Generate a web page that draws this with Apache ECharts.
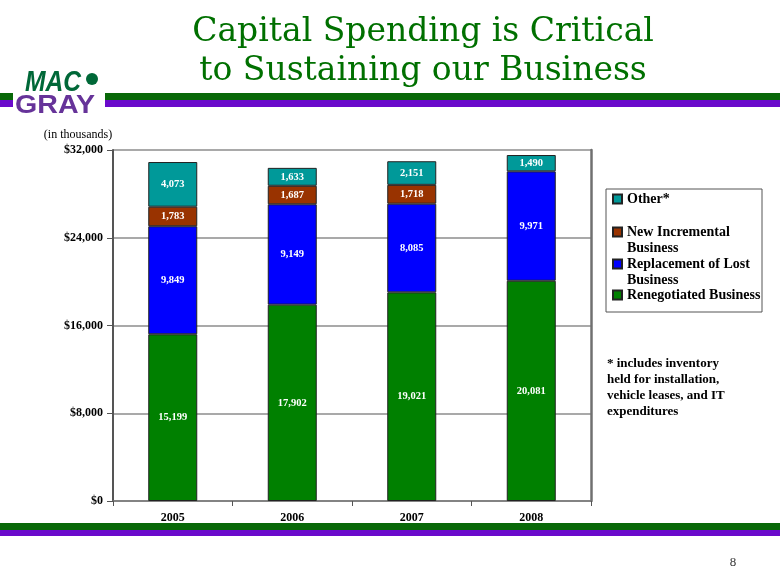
<!DOCTYPE html>
<html><head><meta charset="utf-8">
<script src="https://cdn.jsdelivr.net/npm/echarts/dist/echarts.min.js"></script>
<style>html,body{margin:0;padding:0;background:#fff}#c{width:780px;height:585px}</style>
</head><body><div id="c"></div>
<script>
const categories = ['2005', '2006', '2007', '2008'];
const renegotiated = [15199, 17902, 19021, 20081];
const replacement = [9849, 9149, 8085, 9971];
const newIncremental = [1783, 1687, 1718, null];
const other = [4073, 1633, 2151, 1490];
const seriesNames = ['Renegotiated Business', 'Replacement of Lost Business', 'New Incremental Business', 'Other*'];
const legendLabels = {
  'Other*': 'Other*',
  'New Incremental Business': ' \nNew Incremental\nBusiness',
  'Replacement of Lost Business': ' \nReplacement of Lost\nBusiness',
  'Renegotiated Business': 'Renegotiated Business'
};
const yMin = 0, yMax = 32000, yStep = 8000;

const SERIF = 'Liberation Serif, Times New Roman, serif';
const colors = ['#008000', '#0000ff', '#993300', '#009999'];
const dataSets = [renegotiated, replacement, newIncremental, other];

function fmt(p) { return p.value == null ? '' : Number(p.value).toLocaleString('en-US'); }

const series = seriesNames.map((n, i) => ({
  name: n, type: 'bar', stack: 'total', barWidth: 49,
  data: dataSets[i],
  itemStyle: { color: colors[i], borderColor: '#222', borderWidth: 1 },
  label: { show: true, position: 'inside', color: '#fff', fontFamily: SERIF, fontWeight: 'bold', fontSize: 10.5, formatter: fmt },
  emphasis: { disabled: true }
}));

const legendCommon = {
  orient: 'vertical', left: 612, padding: 0, itemWidth: 9, itemHeight: 9, itemGap: 0,
  icon: 'rect', selectedMode: false,
  formatter: n => legendLabels[n],
  textStyle: { fontFamily: SERIF, fontWeight: 'bold', fontSize: 14, color: '#000', lineHeight: 16 }
};

const chart = echarts.init(document.getElementById('c'), null, { renderer: 'canvas' });
chart.setOption({
  animation: false,
  backgroundColor: '#fff',
  grid: { left: 113, right: 189, top: 150, bottom: 84, containLabel: false, outerBoundsMode: 'none' },
  xAxis: {
    type: 'category', data: categories,
    axisLine: { lineStyle: { color: '#777', width: 1.5 } },
    axisTick: { show: true, length: 5, lineStyle: { color: '#555' } },
    axisLabel: { fontFamily: SERIF, fontWeight: 'bold', fontSize: 12, color: '#000', margin: 11 }
  },
  yAxis: [{
    type: 'value', min: yMin, max: yMax, interval: yStep,
    axisLine: { show: true, lineStyle: { color: '#555', width: 2 } },
    axisTick: { show: true, length: 6, lineStyle: { color: '#555' } },
    splitLine: { show: true, lineStyle: { color: '#8c8c8c', width: 1.5 } },
    axisLabel: { fontFamily: SERIF, fontWeight: 'bold', fontSize: 12, color: '#000', margin: 10,
      formatter: v => '$' + v.toLocaleString('en-US') }
  }, {
    type: 'value', min: yMin, max: yMax, interval: yStep, position: 'right',
    axisLine: { show: true, lineStyle: { color: '#707070', width: 2.5 } },
    axisTick: { show: false }, axisLabel: { show: false }, splitLine: { show: false }
  }],
  legend: [
    Object.assign({}, legendCommon, { data: ['Other*'], top: 191 }),
    Object.assign({}, legendCommon, { data: ['New Incremental Business'], top: 208 }),
    Object.assign({}, legendCommon, { data: ['Replacement of Lost Business'], top: 240 }),
    Object.assign({}, legendCommon, { data: ['Renegotiated Business'], top: 287 })
  ],
  series: series,
  graphic: [
    { type: 'rect', shape: { x: 0, y: 93, width: 13, height: 7 }, style: { fill: '#086808' }, silent: true },
    { type: 'rect', shape: { x: 0, y: 100, width: 13, height: 7 }, style: { fill: '#6a0acb' }, silent: true },
    { type: 'rect', shape: { x: 105, y: 93, width: 675, height: 7 }, style: { fill: '#086808' }, silent: true },
    { type: 'rect', shape: { x: 105, y: 100, width: 675, height: 7 }, style: { fill: '#6a0acb' }, silent: true },
    { type: 'rect', shape: { x: 0, y: 523, width: 780, height: 7 }, style: { fill: '#086808' }, silent: true },
    { type: 'rect', shape: { x: 0, y: 530, width: 780, height: 6 }, style: { fill: '#6a0acb' }, silent: true },
    { type: 'text', x: 423, y: 32, silent: true, style: { text: 'Capital Spending is Critical', fill: '#007000', font: '33px DejaVu Serif', textAlign: 'center', textVerticalAlign: 'middle', align: 'center', verticalAlign: 'middle' } },
    { type: 'text', x: 423, y: 71, silent: true, style: { text: 'to Sustaining our Business', fill: '#007000', font: '33px DejaVu Serif', textAlign: 'center', textVerticalAlign: 'middle', align: 'center', verticalAlign: 'middle' } },
    { type: 'text', x: 25, y: 83, scaleX: 0.85, silent: true, style: { text: 'MAC', fill: '#006838', font: 'italic bold 29px Liberation Sans', textAlign: 'left', textVerticalAlign: 'middle', align: 'left', verticalAlign: 'middle' } },
    { type: 'circle', shape: { cx: 92, cy: 79, r: 6 }, style: { fill: '#006838' }, silent: true },
    { type: 'text', x: 15, y: 106, scaleX: 1.1, silent: true, style: { text: 'GRAY', fill: '#663399', font: 'bold 26px Liberation Sans', textAlign: 'left', textVerticalAlign: 'middle', align: 'left', verticalAlign: 'middle' } },
    { type: 'text', x: 78, y: 135, silent: true, style: { text: '(in thousands)', fill: '#000', font: '12px Liberation Serif', textAlign: 'center', textVerticalAlign: 'middle', align: 'center', verticalAlign: 'middle' } },
    { type: 'rect', shape: { x: 606, y: 189, width: 156, height: 123 }, style: { fill: 'none', stroke: '#555', lineWidth: 1 }, silent: true },
    { type: 'text', x: 607, y: 356, silent: true, style: { text: '* includes inventory\nheld for installation,\nvehicle leases, and IT\nexpenditures', fill: '#000', font: 'bold 13px Liberation Serif', lineHeight: 16, textAlign: 'left', textVerticalAlign: 'top', align: 'left', verticalAlign: 'top' } },
    { type: 'text', x: 733, y: 563, silent: true, style: { text: '8', fill: '#333', font: '13px Liberation Serif', textAlign: 'center', textVerticalAlign: 'middle', align: 'center', verticalAlign: 'middle' } }
  ]
});
</script></body></html>
